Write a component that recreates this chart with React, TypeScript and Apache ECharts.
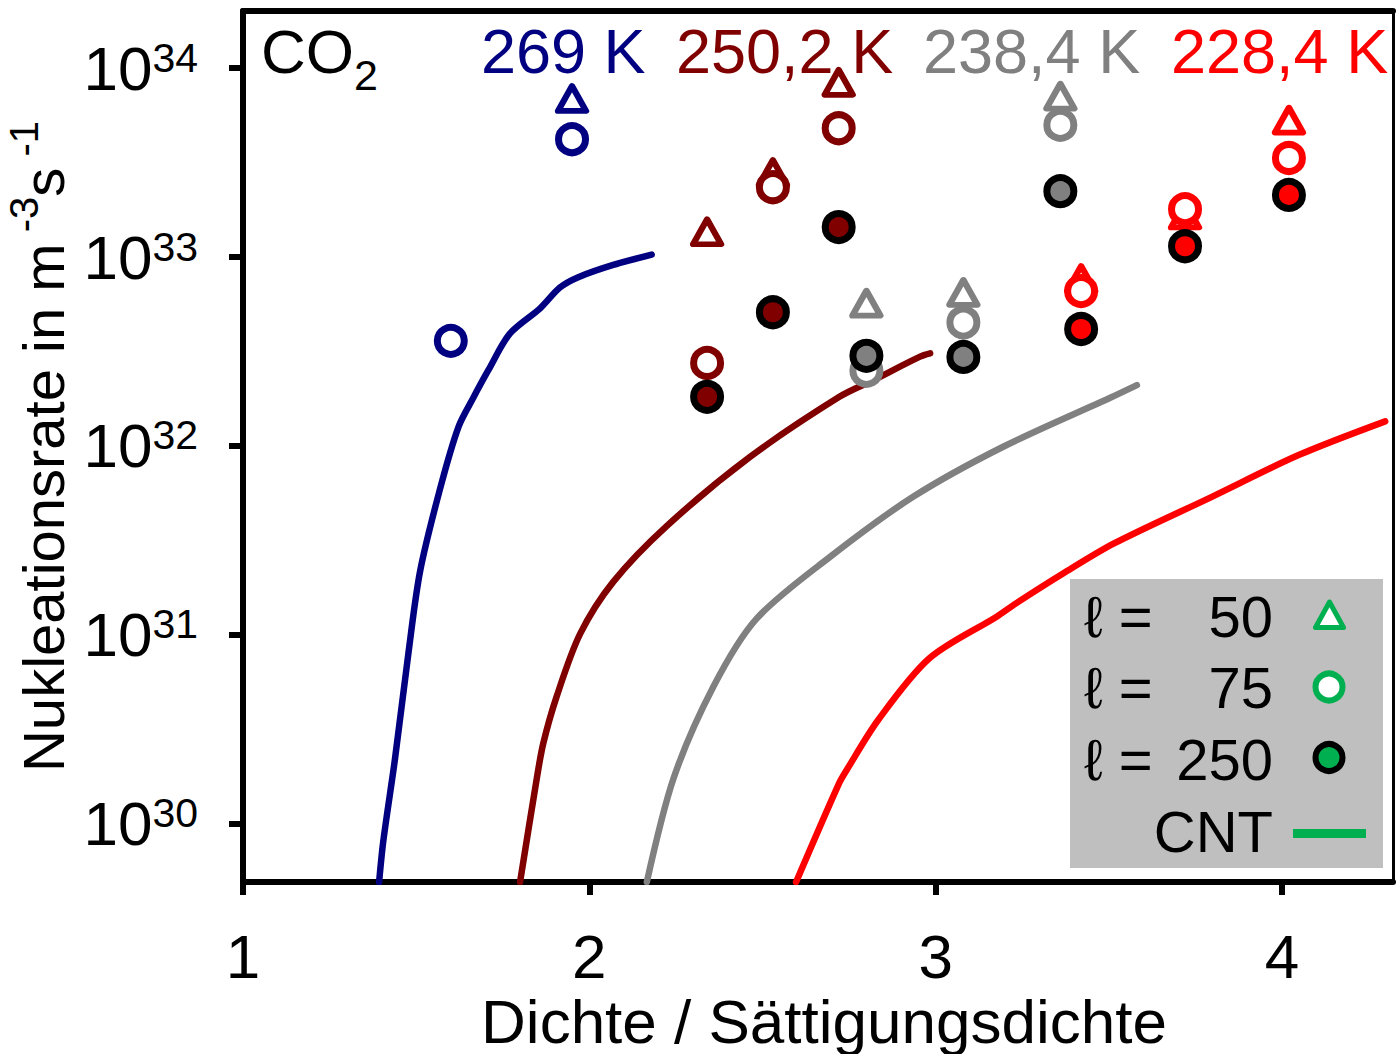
import React, { useEffect, useRef } from "react";
import * as echarts from "echarts";

const FONT = "'Liberation Sans', Arial, Helvetica, sans-serif";

// Temperatures (labels) and colours
const tempLabels = ["269 K", "250,2 K", "238,4 K", "228,4 K"];
const tempColors = ["#000080", "#800000", "#808080", "#FF0000"];

// Axis ticks
const xTicks = [1, 2, 3, 4];
const yTickExponents = [30, 31, 32, 33, 34];

// CNT curves: [density ratio, nucleation rate in m^-3 s^-1]
const cnt269 = [
  [1.393, 4.93e29], [1.405, 8.09e29], [1.439, 2.22e30], [1.477, 7.85e30],
  [1.511, 2.16e31], [1.569, 5.94e31], [1.622, 1.26e32], [1.665, 1.8e32],
  [1.708, 2.51e32], [1.771, 3.94e32], [1.858, 5.35e32], [1.915, 6.89e32],
  [1.968, 7.82e32], [2.069, 9.08e32], [2.18, 1.03e33],
];
const cnt250 = [
  [1.8, 4.93e29], [1.848, 1.73e30], [1.867, 2.67e30], [1.906, 4.75e30],
  [1.973, 1.01e31], [2.069, 1.91e31], [2.224, 3.78e31], [2.464, 8.75e31],
  [2.722, 1.82e32], [2.82, 2.23e32], [2.955, 2.97e32], [2.984, 3.09e32],
];
const cnt238 = [
  [2.166, 4.93e29], [2.243, 1.74e30], [2.358, 5.32e30], [2.483, 1.22e31],
  [2.695, 2.59e31], [2.936, 5.4e31], [3.195, 9.91e31], [3.504, 1.8e32],
  [3.581, 2.1e32],
];
const cnt228 = [
  [2.597, 4.93e29], [2.721, 1.64e30], [2.743, 1.93e30], [2.834, 3.55e30],
  [2.982, 7.53e30], [3.176, 1.25e31], [3.232, 1.47e31], [3.369, 2.12e31],
  [3.515, 3.05e31], [3.799, 5.4e31], [4.048, 8.95e31], [4.298, 1.35e32],
];

// Simulation results for l = 50, 75, 250
const l50_269 = [[1.95, 6.9e33]];
const l75_269 = [[1.6, 3.6e32], [1.95, 4.2e33]];
const l250_269: number[][] = [];

const l50_250 = [[2.34, 1.36e33], [2.53, 2.8e33], [2.72, 8.4e33]];
const l75_250 = [[2.34, 2.75e32], [2.53, 2.34e33], [2.72, 4.8e33]];
const l250_250 = [[2.34, 1.82e32], [2.53, 5.1e32], [2.72, 1.44e33]];

const l50_238 = [[2.8, 5.7e32], [3.08, 6.5e32], [3.36, 7.1e33]];
const l75_238 = [[2.8, 2.5e32], [3.08, 4.5e32], [3.36, 5.0e33]];
const l250_238 = [[2.8, 3.0e32], [3.08, 2.96e32], [3.36, 2.23e33]];

const l50_228 = [[3.42, 7.7e32], [3.72, 1.67e33], [4.02, 5.3e33]];
const l75_228 = [[3.42, 6.6e32], [3.72, 1.79e33], [4.02, 3.34e33]];
const l250_228 = [[3.42, 4.16e32], [3.72, 1.14e33], [4.02, 2.13e33]];

const legendNums = ["50", "75", "250"];

const groups = [
  { color: tempColors[0], cnt: cnt269, l50: l50_269, l75: l75_269, l250: l250_269 },
  { color: tempColors[1], cnt: cnt250, l50: l50_250, l75: l75_250, l250: l250_250 },
  { color: tempColors[2], cnt: cnt238, l50: l50_238, l75: l75_238, l250: l250_238 },
  { color: tempColors[3], cnt: cnt228, l50: l50_228, l75: l75_228, l250: l250_228 },
];

const toLog = (pts: number[][]) => pts.map(([x, v]) => [x, Math.log10(v)]);

const X_MIN = 1;
const X_MAX = 4.3205;
const Y_MIN = 29.6931;
const Y_MAX = 34.3016;

function buildOption() {
  const series: any[] = [];
  groups.forEach((g) => {
    series.push({
      type: "line",
      data: toLog(g.cnt),
      symbol: "none",
      showSymbol: false,
      smooth: 0.3,
      lineStyle: { color: g.color, width: 6.5, cap: "round", join: "round" },
      z: 2,
    });
  });
  groups.forEach((g) => {
    series.push({
      type: "scatter",
      data: toLog(g.l50),
      symbol: "triangle",
      symbolSize: [28, 25],
      itemStyle: { color: "#ffffff", borderColor: g.color, borderWidth: 6, borderJoin: "round", opacity: 1 },
      z: 3,
    });
  });
  groups.forEach((g) => {
    series.push({
      type: "scatter",
      data: toLog(g.l75),
      symbol: "circle",
      symbolSize: 27,
      itemStyle: { color: "#ffffff", borderColor: g.color, borderWidth: 7, opacity: 1 },
      z: 4,
    });
  });
  groups.forEach((g) => {
    series.push({
      type: "scatter",
      data: toLog(g.l250),
      symbol: "circle",
      symbolSize: 27,
      itemStyle: { color: g.color, borderColor: "#000000", borderWidth: 7, opacity: 1 },
      z: 5,
    });
  });

  const txt = (text: string, x: number, y: number, color: string, size: number, align = "left") => ({
    type: "text",
    x,
    y,
    z: 100,
    style: {
      text,
      fill: color,
      fontSize: size,
      fontFamily: FONT,
      align,
      verticalAlign: "middle",
    },
  });

  const tempX = [481, 676, 923, 1171];
  const graphic: any[] = [
    txt("CO", 261, 51, "#000", 62),
    txt("2", 354, 75, "#000", 43),
    ...tempLabels.map((t, i) => txt(t, tempX[i], 51, tempColors[i], 63)),
    {
      type: "rect",
      z: 50,
      shape: { x: 1070, y: 579, width: 313, height: 289 },
      style: { fill: "#BFBFBF" },
    },
    ...legendNums.map((n, i) => txt("ℓ =", 1084, 616 + i * 71.5, "#000", 58)),
    ...legendNums.map((n, i) => txt(n, 1273, 616 + i * 71.5, "#000", 58, "right")),
    txt("CNT", 1273, 831, "#000", 58, "right"),
    {
      type: "polygon",
      z: 101,
      shape: { points: [[1329.5, 602], [1315.5, 627.5], [1343.5, 627.5]] },
      style: { fill: "#ffffff", stroke: "#00B050", lineWidth: 5, lineJoin: "round" },
    },
    {
      type: "circle",
      z: 101,
      shape: { cx: 1329, cy: 687, r: 13.5 },
      style: { fill: "#ffffff", stroke: "#00B050", lineWidth: 6 },
    },
    {
      type: "circle",
      z: 101,
      shape: { cx: 1329, cy: 757.5, r: 13.5 },
      style: { fill: "#00B050", stroke: "#000000", lineWidth: 6 },
    },
    {
      type: "line",
      z: 101,
      shape: { x1: 1293, y1: 833.5, x2: 1366, y2: 833.5 },
      style: { stroke: "#00B050", lineWidth: 9 },
    },
  ];

  return {
    animation: false,
    backgroundColor: "#ffffff",
    grid: { left: 243, top: 11, width: 1150, height: 871, containLabel: false, outerBoundsMode: "none" },
    xAxis: [
      {
        type: "value",
        min: X_MIN,
        max: X_MAX,
        position: "bottom",
        axisLine: { show: true, onZero: false, lineStyle: { color: "#000", width: 6 } },
        axisTick: { show: true, inside: false, length: 13, customValues: xTicks, lineStyle: { color: "#000", width: 6 } },
        axisLabel: { show: true, customValues: xTicks, margin: 49, fontSize: 62, lineHeight: 50, color: "#000", fontFamily: FONT },
        splitLine: { show: false },
        name: "Dichte / Sättigungsdichte",
        nameLocation: "middle",
        nameGap: 114,
        nameMoveOverlap: false,
        nameTextStyle: { fontSize: 62, lineHeight: 50, color: "#000", fontFamily: FONT, padding: [0, 0, 0, 12] },
      },
      {
        type: "value",
        min: X_MIN,
        max: X_MAX,
        position: "top",
        axisLine: { show: true, onZero: false, lineStyle: { color: "#000", width: 6 } },
        axisTick: { show: false },
        axisLabel: { show: false },
        splitLine: { show: false },
      },
    ],
    yAxis: [
      {
        type: "value",
        min: Y_MIN,
        max: Y_MAX,
        position: "left",
        axisLine: { show: true, onZero: false, lineStyle: { color: "#000", width: 6 } },
        axisTick: { show: true, inside: false, length: 14, customValues: yTickExponents, lineStyle: { color: "#000", width: 6 } },
        axisLabel: {
          show: true,
          customValues: yTickExponents,
          margin: 45,
          formatter: (v: number) => `{a|10}{b|${Math.round(v)}}`,
          rich: {
            a: { fontSize: 62, lineHeight: 62, fontFamily: FONT, color: "#000" },
            b: { fontSize: 41, lineHeight: 41, fontFamily: FONT, color: "#000", verticalAlign: "top" },
          },
        },
        splitLine: { show: false },
        name: "{a|Nukleationsrate in m}{b| -3}{a|s}{b| -1}",
        nameLocation: "middle",
        nameRotate: 90,
        nameGap: 133,
        nameTextStyle: {
          rich: {
            a: { fontSize: 58, lineHeight: 80, fontFamily: FONT, color: "#000" },
            b: { fontSize: 40, lineHeight: 40, fontFamily: FONT, color: "#000", verticalAlign: "top" },
          },
        },
      },
      {
        type: "value",
        min: Y_MIN,
        max: Y_MAX,
        position: "right",
        axisLine: { show: true, onZero: false, lineStyle: { color: "#000", width: 3 } },
        axisTick: { show: false },
        axisLabel: { show: false },
        splitLine: { show: false },
      },
    ],
    series,
    graphic,
  };
}

export default function App() {
  const ref = useRef<HTMLDivElement>(null);
  useEffect(() => {
    if (!ref.current) return;
    const chart = echarts.init(ref.current, null, { renderer: "svg" });
    chart.setOption(buildOption() as any);
    return () => chart.dispose();
  }, []);
  return (
    <div
      ref={ref}
      style={{ position: "fixed", left: 0, top: 0, width: 1396, height: 1054, background: "#ffffff" }}
    />
  );
}
